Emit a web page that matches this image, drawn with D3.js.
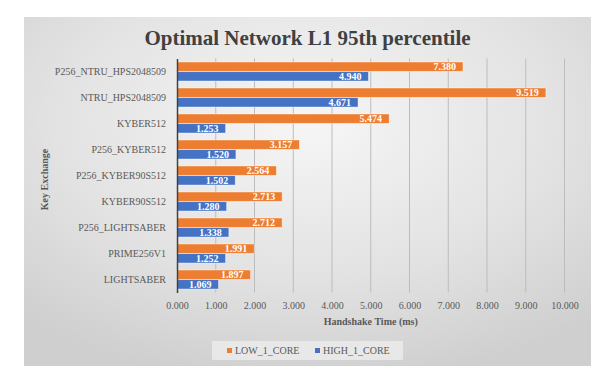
<!DOCTYPE html>
<html>
<head>
<meta charset="utf-8">
<script src="https://cdn.jsdelivr.net/npm/d3@7"></script>
<style>
  body { margin: 0; background: #ffffff; }
  svg text { font-family: "Liberation Serif", "Times New Roman", serif; }
</style>
</head>
<body>
<div id="chart"></div>
<script>
// data
var categories = ["P256_NTRU_HPS2048509", "NTRU_HPS2048509", "KYBER512", "P256_KYBER512",
                  "P256_KYBER90S512", "KYBER90S512", "P256_LIGHTSABER", "PRIME256V1", "LIGHTSABER"];
var seriesNames = ["LOW_1_CORE", "HIGH_1_CORE"];
var lowValues  = [7.380, 9.519, 5.474, 3.157, 2.564, 2.713, 2.712, 1.991, 1.897];
var highValues = [4.940, 4.671, 1.253, 1.520, 1.502, 1.280, 1.338, 1.252, 1.069];
var xTicks = [0, 1, 2, 3, 4, 5, 6, 7, 8, 9, 10];

var colors = {"LOW_1_CORE": "#ED7D31", "HIGH_1_CORE": "#4472C4"};

var full_width = 608, full_height = 375;
var box = {left: 24, top: 17, right: 591, bottom: 366};
var plot = {left: 177, right: 564.5, top: 58.5, bottom: 292.5};

var rows = categories.map(function(c, i) {
  return {category: c, LOW_1_CORE: lowValues[i], HIGH_1_CORE: highValues[i]};
});

var svg = d3.select("#chart")
  .append("svg")
    .attr("width", full_width)
    .attr("height", full_height);

// background gradient
var defs = svg.append("defs");
var grad = defs.append("radialGradient")
  .attr("id", "bg")
  .attr("cx", "50%").attr("cy", "30%").attr("r", "75%");
grad.append("stop").attr("offset", "0%").attr("stop-color", "#f6f6f6");
grad.append("stop").attr("offset", "60%").attr("stop-color", "#e2e2e2");
grad.append("stop").attr("offset", "100%").attr("stop-color", "#cfcfcf");

svg.append("rect")
  .attr("x", box.left).attr("y", box.top)
  .attr("width", box.right - box.left).attr("height", box.bottom - box.top)
  .attr("fill", "url(#bg)");

// title
svg.append("text")
  .attr("x", (box.left + box.right) / 2)
  .attr("y", 45)
  .attr("text-anchor", "middle")
  .style("font-size", "21px")
  .style("font-weight", "bold")
  .style("fill", "#404040")
  .text("Optimal Network L1 95th percentile");

// scales
var x = d3.scaleLinear()
  .domain([0, 10])
  .range([plot.left, plot.right]);

var y = d3.scaleBand()
  .domain(categories)
  .range([plot.top, plot.bottom])
  .paddingInner(0.27)
  .paddingOuter(0.135);

var ySub = d3.scaleBand()
  .domain(seriesNames)
  .range([0, y.bandwidth()])
  .paddingInner(0.04);

// gridlines
svg.append("g")
  .selectAll("line")
  .data(xTicks.slice(1))
  .enter()
  .append("line")
    .attr("x1", function(d) { return x(d); })
    .attr("x2", function(d) { return x(d); })
    .attr("y1", plot.top)
    .attr("y2", plot.bottom)
    .attr("stroke", "#bcbcbc")
    .attr("stroke-width", 1);

// x axis labels
var xAxis = svg.append("g")
  .attr("transform", "translate(0," + plot.bottom + ")")
  .call(d3.axisBottom(x)
          .tickValues(xTicks)
          .tickFormat(d3.format(".3f"))
          .tickSize(0)
          .tickPadding(9));
xAxis.select(".domain").remove();
xAxis.selectAll("text")
  .style("font-size", "10px")
  .style("fill", "#595959")
  .style("font-family", "'Liberation Serif', serif");

// bars
var groups = svg.append("g")
  .selectAll("g")
  .data(rows)
  .enter()
  .append("g")
    .attr("transform", function(d) { return "translate(0," + y(d.category) + ")"; });

groups.selectAll("rect")
  .data(function(d) { return seriesNames.map(function(s) { return {key: s, value: d[s]}; }); })
  .enter()
  .append("rect")
    .attr("x", x(0))
    .attr("y", function(d) { return ySub(d.key); })
    .attr("width", function(d) { return x(d.value) - x(0); })
    .attr("height", ySub.bandwidth())
    .attr("fill", function(d) { return colors[d.key]; })
    .attr("stroke", "rgba(255,255,255,0.55)")
    .attr("stroke-width", 0.7);

// value labels inside end
groups.selectAll("text")
  .data(function(d) { return seriesNames.map(function(s) { return {key: s, value: d[s]}; }); })
  .enter()
  .append("text")
    .attr("x", function(d) { return x(d.value) - 7; })
    .attr("y", function(d) { return ySub(d.key) + ySub.bandwidth() / 2; })
    .attr("dy", "0.36em")
    .attr("text-anchor", "end")
    .style("font-size", "10px")
    .style("font-weight", "bold")
    .style("fill", "#ffffff")
    .text(function(d) { return d3.format(".3f")(d.value); });

// y axis
var yAxis = svg.append("g")
  .attr("transform", "translate(" + plot.left + ",0)")
  .call(d3.axisLeft(y).tickSize(0).tickPadding(11));
yAxis.select(".domain")
  .attr("stroke", "#404040")
  .attr("stroke-width", 1.5);
yAxis.selectAll("text")
  .style("font-size", "10px")
  .style("fill", "#595959")
  .style("font-family", "'Liberation Serif', serif");

// axis titles
svg.append("text")
  .attr("x", (plot.left + plot.right) / 2)
  .attr("y", 325)
  .attr("text-anchor", "middle")
  .style("font-size", "10px")
  .style("font-weight", "bold")
  .style("fill", "#595959")
  .text("Handshake Time (ms)");

svg.append("text")
  .attr("transform", "translate(48," + ((plot.top + plot.bottom) / 2 + 4) + ") rotate(-90)")
  .attr("text-anchor", "middle")
  .style("font-size", "10px")
  .style("font-weight", "bold")
  .style("fill", "#595959")
  .text("Key Exchange");

// legend
var legend = svg.append("g");
legend.append("rect")
  .attr("x", 212).attr("y", 341)
  .attr("width", 191).attr("height", 19)
  .attr("fill", "#ebebeb")
  .attr("fill-opacity", 0.85);

var legendX = [227, 315];
seriesNames.forEach(function(s, i) {
  legend.append("rect")
    .attr("x", legendX[i]).attr("y", 348)
    .attr("width", 5).attr("height", 5)
    .attr("fill", colors[s]);
  legend.append("text")
    .attr("x", legendX[i] + 8)
    .attr("y", 354)
    .style("font-size", "10px")
    .style("fill", "#595959")
    .text(s);
});
</script>
</body>
</html>
